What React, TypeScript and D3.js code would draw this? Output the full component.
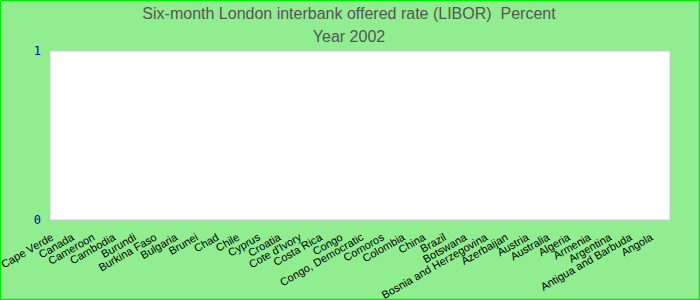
import React from "react";
import * as d3 from "d3";

const titleLines = ["Six-month London interbank offered rate (LIBOR)  Percent", "Year 2002"];
const categories = [
  "Cape Verde", "Canada", "Cameroon", "Cambodia", "Burundi", "Burkina Faso", "Bulgaria", "Brunei",
  "Chad", "Chile", "Cyprus", "Croatia", "Cote d'Ivory", "Costa Rica", "Congo", "Congo, Democratic",
  "Comoros", "Colombia", "China", "Brazil", "Botswana", "Bosnia and Herzegovina", "Azerbaijan",
  "Austria", "Australia", "Algeria", "Armenia", "Argentina", "Antigua and Barbuda", "Angola",
];
const values: (number | null)[] = [
  null, null, null, null, null, null, null, null, null, null,
  null, null, null, null, null, null, null, null, null, null,
  null, null, null, null, null, null, null, null, null, null,
];
const yTicks = [0, 1];

export default function App() {
  const W = 700, H = 300;
  const left = 50, right = 670, top = 51, bottom = 220;
  const x = d3.scaleBand<string>().domain(categories).range([left, right]);
  const y = d3.scaleLinear().domain([0, 1]).range([bottom, top]);
  return (
    <svg width={W} height={H} style={{ position: "absolute", left: 0, top: 0, display: "block" }}>
      <rect x={0.5} y={0.5} width={W - 1} height={H - 1} fill="#90EE90" stroke="#00ee00" strokeWidth={1.5} />
      {titleLines.map((t, i) => (
        <text key={i} x={349} y={19 + i * 23} textAnchor="middle" fontFamily="Liberation Sans, Arial, sans-serif" fontSize={16} fill="#555" style={{ whiteSpace: "pre" }}>{t}</text>
      ))}
      <rect x={left} y={top} width={right - left} height={bottom - top} fill="#fff" stroke="#ccc" strokeWidth={1} />
      {values.map((v, i) => v == null ? null : (
        <rect key={i} x={x(categories[i])!} y={y(v)} width={x.bandwidth()} height={bottom - y(v)} fill="#4682b4" />
      ))}
      {yTicks.map((t) => (
        <text key={t} x={41} y={y(t)} dy="0.35em" textAnchor="end" fontFamily="DejaVu Sans Mono, monospace" fontSize={12} fill="#0000bb">{t}</text>
      ))}
      {categories.map((c) => {
        const cx = x(c)! + x.bandwidth() / 2;
        return (
          <text key={c} transform={`translate(${cx - 8},${236}) rotate(-30)`} textAnchor="end" dy="0.35em" fontFamily="Liberation Sans, Arial, sans-serif" fontSize={11} fill="#000">{c}</text>
        );
      })}
    </svg>
  );
}
